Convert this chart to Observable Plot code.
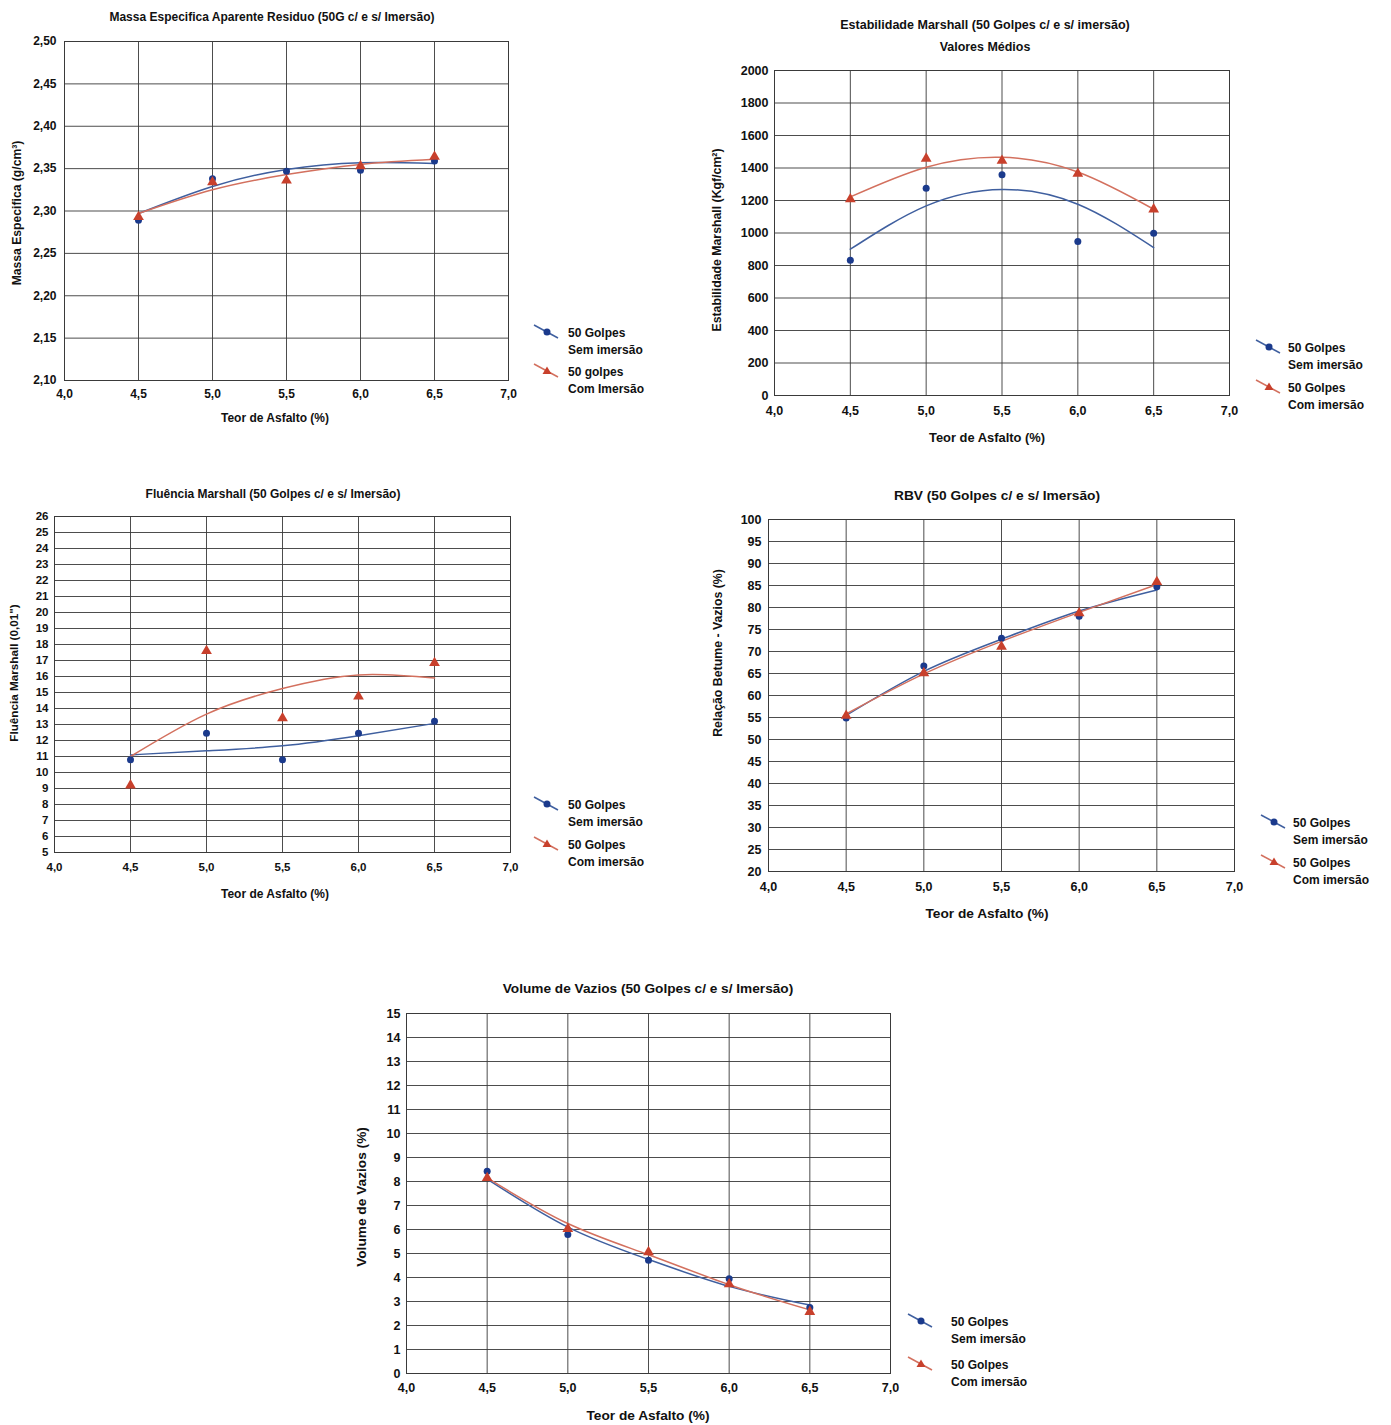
<!DOCTYPE html>
<html><head><meta charset="utf-8">
<script src="https://cdn.jsdelivr.net/npm/d3@7"></script>
<script src="https://cdn.jsdelivr.net/npm/@observablehq/plot@0.6"></script>
<style>
body{margin:0;background:#fff;}
#page{position:relative;width:1391px;height:1425px;overflow:hidden;background:#fff;color:#111;font-weight:bold;font-family:"Liberation Sans",Arial,sans-serif;}
.abs{position:absolute;white-space:nowrap;line-height:1;}
.lt{transform:translate(0,-50%);font-size:12px;}
</style></head><body><div id="page"></div>
<script>
// ---------- data ----------
const teor = [4.5, 5.0, 5.5, 6.0, 6.5];
const xTicks = [4.0, 4.5, 5.0, 5.5, 6.0, 6.5, 7.0];

// Massa Específica
const massaTicks = [2.10, 2.15, 2.20, 2.25, 2.30, 2.35, 2.40, 2.45, 2.50];
const massaSem = [2.289, 2.338, 2.347, 2.348, 2.359];
const massaCom = [2.293, 2.334, 2.336, 2.353, 2.364];
const massaSemTrend = [2.297, 2.329, 2.349, 2.357, 2.356];
const massaComTrend = [2.297, 2.325, 2.343, 2.355, 2.361];

// Estabilidade Marshall
const estabTicks = [0, 200, 400, 600, 800, 1000, 1200, 1400, 1600, 1800, 2000];
const estabSem = [833, 1275, 1359, 948, 999];
const estabCom = [1208, 1458, 1445, 1365, 1146];
const estabSemTrend = [900, 1167, 1268, 1177, 910];
const estabComTrend = [1222, 1405, 1466, 1375, 1146];

// Fluência Marshall
const fluTicks = [5,6,7,8,9,10,11,12,13,14,15,16,17,18,19,20,21,22,23,24,25,26];
const fluSem = [10.8, 12.45, 10.8, 12.45, 13.2];
const fluCom = [9.2, 17.6, 13.4, 14.75, 16.85];
const fluSemTrend = [11.1, 11.36, 11.67, 12.3, 13.07];
const fluComTrend = [11.0, 13.65, 15.25, 16.1, 15.9];

// RBV
const rbvTicks = [20,25,30,35,40,45,50,55,60,65,70,75,80,85,90,95,100];
const rbvSem = [54.9, 66.7, 73.0, 78.0, 84.7];
const rbvCom = [55.4, 65.1, 71.1, 78.7, 85.8];
const rbvSemTrend = [55.5, 65.5, 72.8, 79.2, 84.0];
const rbvComTrend = [55.8, 64.9, 72.3, 78.9, 85.2];

// Volume de Vazios
const vvTicks = [0,1,2,3,4,5,6,7,8,9,10,11,12,13,14,15];
const vvSem = [8.43, 5.79, 4.72, 3.95, 2.75];
const vvCom = [8.15, 6.03, 5.06, 3.72, 2.57];
const vvSemTrend = [8.1, 6.1, 4.75, 3.63, 2.85];
const vvComTrend = [8.15, 6.25, 4.95, 3.7, 2.65];

// ---------- drawing ----------
const BLUE_DOT = "#1b3a8c", BLUE_LINE = "#3f5f9f";
const RED_DOT = "#c8402c", RED_LINE = "#d3705e";
const FONT = '"Liberation Sans",Arial,sans-serif';
const page = document.getElementById("page");
const comma = (d, n) => d.toFixed(n).replace(".", ",");
const rows = (ys) => teor.map((x, i) => ({x, y: ys[i]}));

// text centred at (x,y); optional target width compresses glyphs like a narrow face
function addText(txt, x, y, size, target, rotate) {
  const d = document.createElement("div");
  d.className = "abs";
  d.style.left = x + "px"; d.style.top = y + "px";
  d.style.fontSize = size + "px";
  d.textContent = txt;
  page.appendChild(d);
  const w = d.offsetWidth;
  const s = target ? target / w : 1;
  d.style.transform = "translate(-50%,-50%)" + (rotate ? " rotate(-90deg)" : "") + " scaleX(" + s + ")";
}

function addLeft(txt, x, y) {
  const d = document.createElement("div");
  d.className = "abs lt";
  d.style.left = x + "px"; d.style.top = y + "px";
  d.textContent = txt;
  page.appendChild(d);
}

function legendItem(x0, yd, color, lineColor, sym) {
  const svg = d3.create("svg").attr("width", 30).attr("height", 24)
    .style("position", "absolute").style("left", (x0 - 2) + "px").style("top", (yd - 12) + "px");
  svg.append("line").attr("x1", 2).attr("y1", 4).attr("x2", 26).attr("y2", 17)
    .attr("stroke", lineColor).attr("stroke-width", 1.5);
  if (sym === "circle") svg.append("circle").attr("cx", 15).attr("cy", 11).attr("r", 3.5).attr("fill", color);
  else svg.append("path").attr("d", "M15,6.5 L19.5,14 L10.5,14 Z").attr("fill", color);
  page.appendChild(svg.node());
}

function legend(x0, xt, y1, y2, l1, l2, l3, l4) {
  legendItem(x0, y1, BLUE_DOT, BLUE_LINE, "circle");
  addLeft(l1, xt, y1);
  addLeft(l2, xt, y1 + 17);
  legendItem(x0, y2, RED_DOT, RED_LINE, "triangle");
  addLeft(l3, xt, y2);
  addLeft(l4, xt, y2 + 17);
}

function chart(o) {
  const svg = Plot.plot({
    width: o.w, height: o.h,
    marginLeft: o.fl - o.left, marginTop: o.ft - o.top,
    marginRight: o.left + o.w - o.fr, marginBottom: o.top + o.h - o.fb,
    style: {fontFamily: FONT, fontSize: o.tickSize + "px", fontWeight: "bold", background: "transparent", color: "#111", overflow: "visible"},
    x: {domain: [4, 7]},
    y: {domain: o.yDomain},
    marks: [
      Plot.gridX(xTicks, {stroke: "#3a3a3a", strokeOpacity: 0.9, strokeWidth: 1}),
      Plot.gridY(o.yTicks, {stroke: "#3a3a3a", strokeOpacity: 0.9, strokeWidth: 1}),
      Plot.frame({stroke: "#3a3a3a", strokeWidth: 1}),
      Plot.axisX(xTicks, {tickSize: 0, tickPadding: o.xPad, tickFormat: d => comma(d, 1), label: null}),
      Plot.axisY(o.yTicks, {tickSize: 0, tickPadding: o.yPad, tickFormat: d => comma(d, o.yDec), label: null}),
      Plot.line(rows(o.semT), {x: "x", y: "y", curve: "natural", stroke: BLUE_LINE, strokeWidth: 1.5}),
      Plot.line(rows(o.comT), {x: "x", y: "y", curve: "natural", stroke: RED_LINE, strokeWidth: 1.5}),
      Plot.dot(rows(o.sem), {x: "x", y: "y", r: 3.5, fill: BLUE_DOT, symbol: "circle"}),
      Plot.dot(rows(o.com), {x: "x", y: "y", r: 4, fill: RED_DOT, symbol: "triangle"})
    ]
  });
  svg.style.position = "absolute";
  svg.style.left = o.left + "px";
  svg.style.top = o.top + "px";
  page.appendChild(svg);
}

// Chart 1
chart({left: 0, top: 0, w: 520, h: 420, fl: 64, ft: 41, fr: 508, fb: 380,
  yDomain: [2.10, 2.50], yTicks: massaTicks, yDec: 2, tickSize: 12, xPad: 9, yPad: 8,
  sem: massaSem, com: massaCom, semT: massaSemTrend, comT: massaComTrend});
addText("Massa Especifica Aparente Residuo (50G c/ e s/ Imersão)", 272, 16, 13, 325);
addText("Teor de Asfalto (%)", 275, 417, 13, 108);
addText("Massa Especifica (g/cm³)", 17, 213, 12, 145, true);
legend(534, 568, 333, 372, "50 Golpes", "Sem imersão", "50 golpes", "Com Imersão");

// Chart 2
chart({left: 700, top: 50, w: 545, h: 380, fl: 774, ft: 70, fr: 1229, fb: 395,
  yDomain: [0, 2000], yTicks: estabTicks, yDec: 0, tickSize: 12.5, xPad: 11, yPad: 6,
  sem: estabSem, com: estabCom, semT: estabSemTrend, comT: estabComTrend});
addText("Estabilidade Marshall (50 Golpes c/ e s/ imersão)", 985, 24, 13, 290);
addText("Valores Médios", 985, 46, 13, 91);
addText("Teor de Asfalto (%)", 987, 437, 13, 116);
addText("Estabilidade Marshall (Kgf/cm²)", 717, 240, 12.3, 183, true);
legend(1256, 1288, 348, 388, "50 Golpes", "Sem imersão", "50 Golpes", "Com imersão");

// Chart 3
chart({left: 0, top: 500, w: 520, h: 390, fl: 54, ft: 516, fr: 510, fb: 852,
  yDomain: [5, 26], yTicks: fluTicks, yDec: 0, tickSize: 11.5, xPad: 10, yPad: 6,
  sem: fluSem, com: fluCom, semT: fluSemTrend, comT: fluComTrend});
addText("Fluência Marshall (50 Golpes c/ e s/ Imersão)", 273, 493, 13, 255);
addText("Teor de Asfalto (%)", 275, 893, 13, 108);
addText("Fluência Marshall (0,01\")", 14, 673, 11.7, 137, true);
legend(534, 568, 805, 845, "50 Golpes", "Sem imersão", "50 Golpes", "Com imersão");

// Chart 4
chart({left: 700, top: 505, w: 550, h: 395, fl: 768, ft: 519, fr: 1234, fb: 871,
  yDomain: [20, 100], yTicks: rbvTicks, yDec: 0, tickSize: 12.5, xPad: 11, yPad: 7,
  sem: rbvSem, com: rbvCom, semT: rbvSemTrend, comT: rbvComTrend});
addText("RBV (50 Golpes c/ e s/ Imersão)", 997, 495, 13, 206);
addText("Teor de Asfalto (%)", 987, 913, 13, 123);
addText("Relação Betume - Vazios (%)", 718, 653, 12.4, 168, true);
legend(1261, 1293, 823, 863, "50 Golpes", "Sem imersão", "50 Golpes", "Com imersão");

// Chart 5
chart({left: 350, top: 1000, w: 545, h: 400, fl: 406, ft: 1013, fr: 890, fb: 1373,
  yDomain: [0, 15], yTicks: vvTicks, yDec: 0, tickSize: 12.5, xPad: 10, yPad: 6,
  sem: vvSem, com: vvCom, semT: vvSemTrend, comT: vvComTrend});
addText("Volume de Vazios (50 Golpes c/ e s/ Imersão)", 648, 988, 13, 290);
addText("Teor de Asfalto (%)", 648, 1415, 13, 123);
addText("Volume de Vazios (%)", 362, 1197, 13.6, 140, true);
legend(908, 951, 1322, 1365, "50 Golpes", "Sem imersão", "50 Golpes", "Com imersão");
</script></body></html>
